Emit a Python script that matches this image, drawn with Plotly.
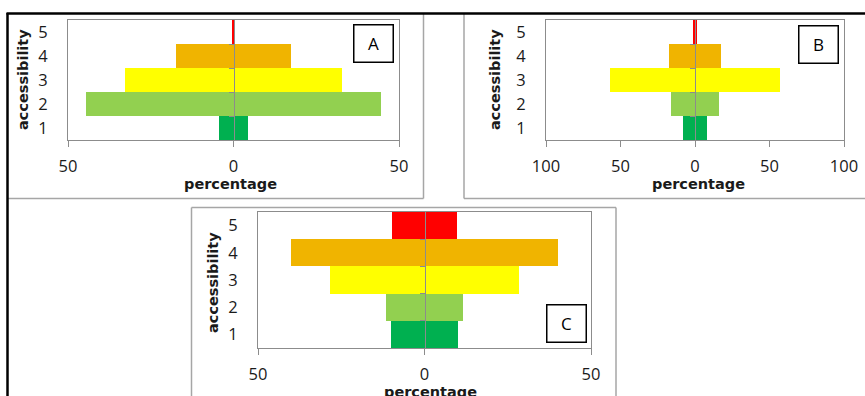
import plotly.graph_objects as go

W, H = 865, 396

categories = [1, 2, 3, 4, 5]
values_A = [4.4, 44.7, 32.8, 17.5, 0.4]
values_B = [8.0, 15.8, 56.8, 17.5, 1.1]
values_C = [10.0, 11.6, 28.3, 40.1, 9.7]
colors = ["#00B050", "#92D050", "#FFFF00", "#F0B400", "#FF0000"]

ticks_50 = [-50, 0, 50]
ticktext_50 = ["50", "0", "50"]
ticks_100 = [-100, -50, 0, 50, 100]
ticktext_100 = ["100", "50", "0", "50", "100"]
boundaries = [1.5, 2.5, 3.5, 4.5]

panels = [
    ("A", values_A, [-50, 50], ticks_50, ticktext_50, (68, 399), (20, 140)),
    ("B", values_B, [-100, 100], ticks_100, ticktext_100, (546, 844), (20, 140)),
    ("C", values_C, [-50, 50], ticks_50, ticktext_50, (258, 591), (212, 348)),
]

AXC = "#8C8C8C"
TICKFONT = dict(family="Open Sans", size=16.5, color="#1a1a1a")
TITLEFONT = dict(family="DejaVu Sans", size=14.5, color="#1a1a1a")

fig = go.Figure()
layout = dict(
    width=W, height=H, margin=dict(l=0, r=0, t=0, b=0, autoexpand=False),
    paper_bgcolor="white", plot_bgcolor="white",
    barmode="relative", bargap=0, showlegend=False,
)

for i, (name, vals, xr, tv, tt, dx, dy) in enumerate(panels):
    n = i + 1
    xa = "x" if n == 1 else f"x{n}"
    ya = "y" if n == 1 else f"y{n}"
    xd = [dx[0] / W, dx[1] / W]
    yd = [1 - dy[1] / H, 1 - dy[0] / H]
    fig.add_trace(go.Bar(y=categories, x=[-v for v in vals], orientation="h",
                         marker=dict(color=colors, line=dict(width=0)),
                         xaxis=xa, yaxis=ya, hoverinfo="skip"))
    fig.add_trace(go.Bar(y=categories, x=vals, orientation="h",
                         marker=dict(color=colors, line=dict(width=0)),
                         xaxis=xa, yaxis=ya, hoverinfo="skip"))
    layout[f"xaxis{'' if n == 1 else n}"] = dict(
        domain=xd, range=xr, anchor=ya, showline=True, mirror=True,
        linecolor=AXC, linewidth=1, ticks="outside", ticklen=6, tickcolor=AXC,
        tickvals=tv, ticktext=tt, showgrid=False, zeroline=False,
        tickfont=TICKFONT, ticklabelstandoff=5, fixedrange=True, automargin=False,
    )
    layout[f"yaxis{'' if n == 1 else n}"] = dict(
        domain=yd, range=[0.5, 5.5], anchor=xa, showline=True, mirror=True,
        linecolor=AXC, linewidth=1, ticks="", tickvals=categories,
        showgrid=False, zeroline=False, tickfont=TICKFONT,
        ticklabelstandoff=16, fixedrange=True, automargin=False,
    )
    m = n + 3
    pos = xd[0] + (xd[1] - xd[0]) * (0 - xr[0]) / (xr[1] - xr[0])
    layout[f"yaxis{m}"] = dict(
        overlaying=ya, anchor="free", position=pos, range=[0.5, 5.5],
        showline=True, linecolor=AXC, linewidth=1, ticks="outside", ticklen=5,
        tickcolor=AXC, tickvals=boundaries, showticklabels=False,
        showgrid=False, zeroline=False, fixedrange=True, automargin=False,
    )
    fig.add_trace(go.Scatter(x=[], y=[], xaxis=xa, yaxis=f"y{m}",
                             mode="markers", hoverinfo="skip"))

fig.update_layout(**layout)

GRAY = "#A6A6A6"
def hline(y, x0, x1, color=GRAY, w=1.5):
    fig.add_shape(type="line", xref="paper", yref="paper",
                  x0=x0 / W, x1=x1 / W, y0=1 - y / H, y1=1 - y / H,
                  line=dict(color=color, width=w))
def vline(x, y0, y1, color=GRAY, w=1.5):
    fig.add_shape(type="line", xref="paper", yref="paper",
                  x0=x / W, x1=x / W, y0=1 - y0 / H, y1=1 - y1 / H,
                  line=dict(color=color, width=w))

hline(198.5, 8, 423.5)
vline(423.5, 13, 198.5)
hline(198.5, 464, 865)
vline(464, 13, 198.5)
vline(191.5, 207.5, 396)
hline(207.5, 191.5, 616)
vline(616, 207.5, 396)
hline(13.5, 6.5, 865, "black", 2.5)
vline(7.5, 13, 396, "black", 2.5)

def ann(text, x, y, font, angle=0):
    fig.add_annotation(text=text, xref="paper", yref="paper", x=x / W, y=1 - y / H,
                       xanchor="center", yanchor="middle", showarrow=False,
                       font=font, textangle=angle)

bold = dict(TITLEFONT, weight="bold")
ann("<b>percentage</b>", 231, 184.5, bold)
ann("<b>percentage</b>", 698, 184.5, bold)
ann("<b>percentage</b>", 430, 391.5, bold)
ann("<b>accessibility</b>", 23, 80, bold, -90)
ann("<b>accessibility</b>", 495, 80, bold, -90)
ann("<b>accessibility</b>", 213, 283, bold, -90)

for lab, cx, cy in [("A", 373.5, 43.5), ("B", 818.5, 44), ("C", 566.5, 323.5)]:
    fig.add_annotation(text=lab, xref="paper", yref="paper", x=cx / W, y=1 - cy / H,
                       xanchor="center", yanchor="middle", showarrow=False,
                       font=dict(family="Open Sans", size=17, color="black"),
                       width=38, height=36, borderpad=0, bordercolor="black",
                       borderwidth=1.5, bgcolor="white")

fig.write_html(
    "out.html",
    config={"displayModeBar": False},
    post_script="document.body.style.margin='0';document.body.style.overflow='hidden';",
)
